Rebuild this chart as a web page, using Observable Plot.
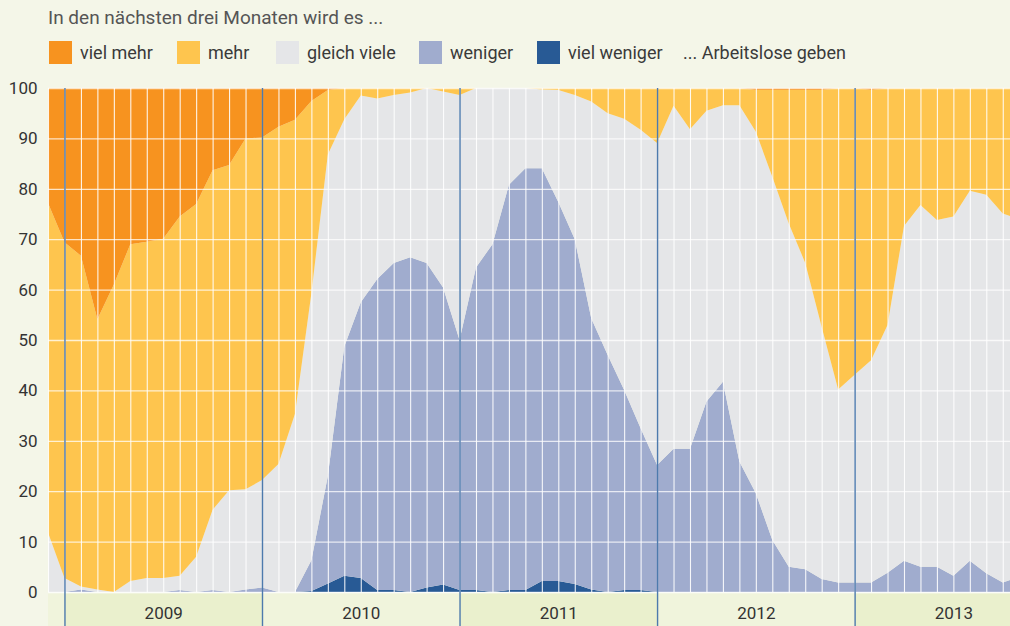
<!DOCTYPE html>
<html>
<head>
<meta charset="utf-8">
<script src="https://cdn.jsdelivr.net/npm/d3@7"></script>
<script src="https://cdn.jsdelivr.net/npm/@observablehq/plot@0.6"></script>
<style>
  html, body { margin: 0; padding: 0; background: #f4f6e8; }
  body { width: 1010px; height: 626px; overflow: hidden; font-family: Roboto, "Open Sans", sans-serif; color: #3a3a3a; }
  #head { position: relative; height: 76px; }
  #title { position: absolute; left: 48px; top: 6px; font-size: 19px; color: #555; white-space: nowrap; }
  .item { position: absolute; top: 41px; height: 23px; display: flex; align-items: center; font-size: 18px; white-space: nowrap; }
  .sw { width: 23px; height: 23px; margin-right: 8px; }
  #chart svg { display: block; }
</style>
</head>
<body>
<div id="head">
  <div id="title">In den nächsten drei Monaten wird es ...</div>
  <div id="legend"></div>
</div>
<div id="chart"></div>
<script>
// Categories (stack order from bottom to top) and colours
const seriesNames = ["viel weniger", "weniger", "gleich viele", "mehr", "viel mehr"];
const seriesColors = ["#285a95", "#a0acce", "#e5e6e8", "#fec54e", "#f7931f"];
const legendOrder = ["viel mehr", "mehr", "gleich viele", "weniger", "viel weniger"];
const legendTail = "... Arbeitslose geben";

// Months Dec 2008 .. Nov 2013
const months = d3.utcMonth.range(new Date(Date.UTC(2008, 11, 1)), new Date(Date.UTC(2013, 11, 1)));
const yearLabels = ["2009", "2010", "2011", "2012", "2013"];
const yTicks = [0, 10, 20, 30, 40, 50, 60, 70, 80, 90, 100];

// Shares in percent, one value per month
const vielWeniger = [0,0,0,0,0,0,0,0,0,0, 0,0,0,0,0,0,0.2,1.7,3.2,2.8, 0.4,0.4,0,0.9,1.5,0.4,0.4,0,0.4,0.4, 2.2,2.2,1.6,0.5,0,0.4,0.4,0,0,0, 0,0,0,0,0,0,0,0,0,0, 0,0,0,0,0,0,0,0,0,0];
const weniger = [0,0,0.5,0,0,0,0,0,0.4,0, 0.4,0,0.5,0.9,0,0,6.1,21.3,45.5,54.7, 61.7,64.9,66.4,64.4,58.9,49.6,64,69,80.4,83.7, 81.9,75.2,68.4,53.8,47,39.7,32.1,25.2,28.4,28.4, 37.8,41.7,25.9,19.6,10.3,5,4.5,2.6,1.9,1.9, 1.9,3.8,6.2,5,5,3.2,6.2,3.7,1.9,3];
const gleichViele = [11.8,2.8,0.6,0.5,0,2.2,2.8,2.8,2.8,7, 15.9,20.2,19.9,21.3,25.4,35.3,53,63.8,45.1,41, 35.8,33.3,32.7,34.7,38.9,48.6,35.6,31,19.2,15.9, 15.6,22.2,28.6,43,48,53.8,59.2,63.9,68.1,63.4, 57.7,54.9,70.7,71.7,72.1,68.1,60.8,50,38.3,41.2, 44.1,49.2,66.4,71.8,68.8,71.3,73.4,75.1,73.2,71];
const mehr = [65.4,66.6,65.6,53.6,61,66.8,66.7,67.3,71.3,70, 67.4,64.5,69.6,68,66.9,58.4,38.1,12.8,6.2,1.5, 2.1,1.4,0.9,0,0.7,1.4,0,0,0,0, 0.3,0.4,1.4,2.7,5,6.1,8.3,10.9,3.5,8.2, 4.5,3.4,3.4,8.3,17.2,26.5,34.3,47,59.8,56.9, 53.6,47,27.4,23.2,26.2,25.5,20.4,21.2,24.9,26];
const vielMehr = [22.8,30.6,33.3,45.9,39,31,30.5,29.9,25.5,23, 16.3,15.3,10,9.8,7.7,6.3,2.6,0.4,0,0, 0,0,0,0,0,0,0,0,0,0, 0,0,0,0,0,0,0,0,0,0, 0,0,0,0.4,0.4,0.4,0.4,0.4,0,0, 0.4,0,0,0,0,0,0,0,0,0];

const seriesValues = [vielWeniger, weniger, gleichViele, mehr, vielMehr];
const data = [];
seriesNames.forEach((s, k) => seriesValues[k].forEach((v, i) => data.push({series: s, month: months[i], i, value: v})));

const monthIdx = months.map((m, i) => i);
const yearStart = yearLabels.map(y => months.findIndex(m => m.getUTCFullYear() === +y));
const bands = [{x1: 0, x2: yearStart[0], k: 0}].concat(yearStart.map((s, k) => ({x1: s, x2: s + 12, k: k + 1})));

// legend
const legend = document.getElementById("legend");
const legendX = [49, 177, 276, 419, 537];
legendOrder.forEach((name, k) => {
  const el = document.createElement("div");
  el.className = "item";
  el.style.left = legendX[k] + "px";
  el.innerHTML = `<span class="sw" style="background:${seriesColors[seriesNames.indexOf(name)]}"></span><span>${name}</span>`;
  legend.appendChild(el);
});
const tail = document.createElement("div");
tail.className = "item";
tail.style.left = "683px";
tail.textContent = legendTail;
legend.appendChild(tail);

const bandBottom = -7, bandTop = -0.3;

const chart = Plot.plot({
  width: 1010,
  height: 550,
  marginTop: 12,
  marginBottom: 34,
  marginLeft: 48,
  marginRight: 0,
  style: {background: "transparent", fontFamily: "Roboto, 'Open Sans', sans-serif", fontSize: "17px", color: "#333"},
  x: {type: "linear", domain: [0, 58.44], axis: null},
  y: {domain: [0, 100], ticks: yTicks, tickSize: 0, tickPadding: 11, label: null, tickFormat: d => d},
  color: {domain: seriesNames, range: seriesColors},
  marks: [
    Plot.areaY(data, {x: "i", y: "value", z: "series", fill: "series", order: seriesNames, clip: true}),
    Plot.ruleX(monthIdx, {y1: 0, y2: 100, stroke: "white", strokeWidth: 1.1, strokeOpacity: 0.9, clip: true}),
    Plot.ruleY(yTicks, {stroke: "white", strokeWidth: 1.3, strokeOpacity: 0.75}),
    Plot.rect(bands, {x1: "x1", x2: "x2", y1: bandBottom, y2: bandTop, fill: d => d.k % 2 ? "#eaf0cd" : "#f0f4dc", clip: false}),
    Plot.ruleX(yearStart, {y1: bandBottom, y2: 100, stroke: "#4d7aad", strokeWidth: 1.4}),
    Plot.text(yearLabels, {x: (d, k) => yearStart[k] + 6, y: (bandBottom + bandTop) / 2, dy: 3, text: d => d, fontSize: 17, fill: "#333", clip: false})
  ]
});
document.getElementById("chart").appendChild(chart);
</script>
</body>
</html>
